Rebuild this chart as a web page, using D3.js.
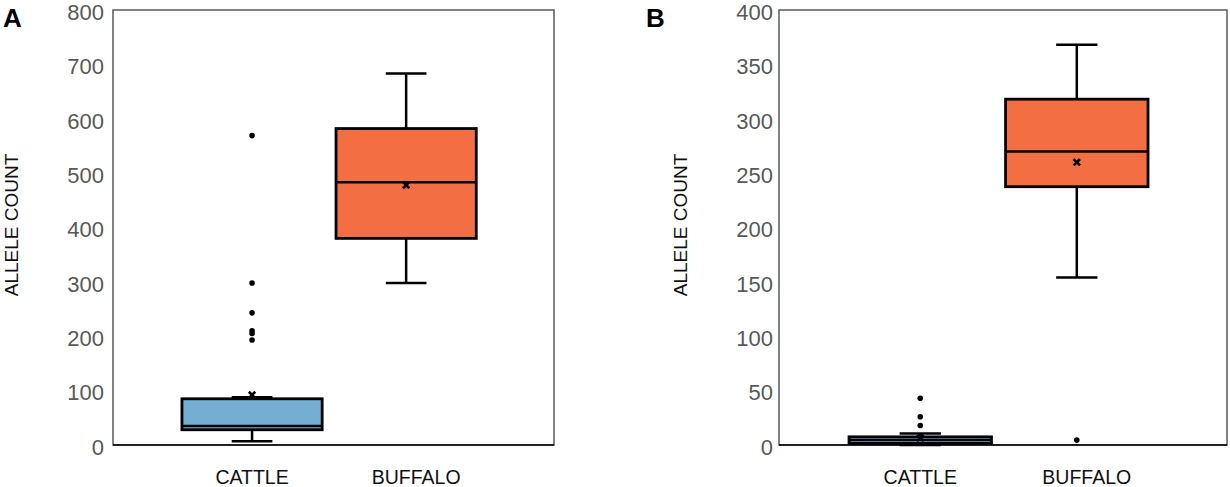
<!DOCTYPE html>
<html>
<head>
<meta charset="utf-8">
<script src="https://cdn.jsdelivr.net/npm/d3@7"></script>
<style>
  body { margin: 0; background: #fff; }
  svg { display: block; font-family: "Liberation Sans", Arial, sans-serif; }
</style>
</head>
<body>
<svg id="chart" width="1230" height="487"></svg>
<script>
// categories shared by both panels
var categories = ["CATTLE", "BUFFALO"];
var boxColors = ["#74aed3", "#f36f43"];

// panel A : allele count
var aTicks = [0, 100, 200, 300, 400, 500, 600, 700, 800];
var aMin = [7, 298];
var aQ1 = [28, 380];
var aMedian = [35, 483];
var aQ3 = [85, 582];
var aMax = [88, 683];
var aMean = [92, 478];
var aOutliers = [[193, 205, 210, 243, 298, 569], []];

// panel B : allele count
var bTicks = [0, 50, 100, 150, 200, 250, 300, 350, 400];
var bMin = [0, 154];
var bQ1 = [1.5, 237.5];
var bMedian = [4.5, 270];
var bQ3 = [7.5, 318];
var bMax = [10.5, 368];
var bMean = [6.5, 260];
var bOutliers = [[18, 26, 43], [4.5]];

var svg = d3.select("#chart");
var plotTop = 10, plotBottom = 445;

function drawPanel(opt) {
  var g = svg.append("g");

  var y = d3.scaleLinear()
    .domain([0, opt.ticks[opt.ticks.length - 1]])
    .range([plotBottom, plotTop]);

  var x = d3.scaleBand()
    .domain(categories)
    .range([opt.left, opt.right])
    .paddingInner(0.09)
    .paddingOuter(0.476)
    .align(0.47);

  var bw = x.bandwidth();
  var capW = bw * 0.29;

  // frame
  g.append("rect")
    .attr("x", opt.left)
    .attr("y", plotTop)
    .attr("width", opt.right - opt.left)
    .attr("height", plotBottom - plotTop)
    .attr("fill", "none")
    .attr("stroke", "#5a5a5a")
    .attr("stroke-width", 1.5);

  // y axis
  var yAxis = g.append("g")
    .attr("transform", "translate(" + (opt.left - opt.tickGap) + ",0)")
    .call(d3.axisLeft(y).tickValues(opt.ticks).tickSize(0).tickPadding(0));
  yAxis.select(".domain").remove();
  yAxis.selectAll("text")
    .attr("dy", "0.42em")
    .attr("fill", "#595959")
    .style("font-size", "22px")
    .style("font-family", "'Liberation Sans', Arial, sans-serif");

  // y label
  g.append("text")
    .attr("transform", "translate(" + opt.labelX + "," + 225 + ") rotate(-90)")
    .attr("text-anchor", "middle")
    .attr("dominant-baseline", "central")
    .style("font-size", "19px")
    .attr("fill", "#111")
    .text("ALLELE COUNT");

  // category labels
  g.selectAll(".cat")
    .data(categories)
    .enter()
    .append("text")
    .attr("class", "cat")
    .attr("x", function(d, i) { return x(d) + bw / 2 + (i === 1 ? 10 : 0); })
    .attr("y", 484)
    .attr("text-anchor", "middle")
    .style("font-size", "19.5px")
    .attr("fill", "#111")
    .text(function(d) { return d; });

  var box = g.selectAll(".box")
    .data(categories)
    .enter()
    .append("g")
    .attr("class", "box")
    .attr("transform", function(d) { return "translate(" + (x(d) + bw / 2) + ",0)"; });

  // whiskers
  box.append("line")
    .attr("x1", 0).attr("x2", 0)
    .attr("y1", function(d, i) { return y(opt.max[i]); })
    .attr("y2", function(d, i) { return y(opt.q3[i]); })
    .attr("stroke", "#000").attr("stroke-width", 2.5);
  box.append("line")
    .attr("x1", 0).attr("x2", 0)
    .attr("y1", function(d, i) { return y(opt.q1[i]); })
    .attr("y2", function(d, i) { return y(opt.min[i]); })
    .attr("stroke", "#000").attr("stroke-width", 2.5);
  box.append("line")
    .attr("x1", -capW / 2).attr("x2", capW / 2)
    .attr("y1", function(d, i) { return y(opt.max[i]); })
    .attr("y2", function(d, i) { return y(opt.max[i]); })
    .attr("stroke", "#000").attr("stroke-width", 2.5);
  box.append("line")
    .attr("x1", -capW / 2).attr("x2", capW / 2)
    .attr("y1", function(d, i) { return y(opt.min[i]); })
    .attr("y2", function(d, i) { return y(opt.min[i]); })
    .attr("stroke", "#000").attr("stroke-width", 2.5);

  // boxes
  box.append("rect")
    .attr("x", -bw / 2)
    .attr("width", bw)
    .attr("y", function(d, i) { return y(opt.q3[i]); })
    .attr("height", function(d, i) { return y(opt.q1[i]) - y(opt.q3[i]); })
    .attr("fill", function(d, i) { return boxColors[i]; })
    .attr("stroke", "#000")
    .attr("stroke-width", 2.8);

  // median
  box.append("line")
    .attr("x1", -bw / 2).attr("x2", bw / 2)
    .attr("y1", function(d, i) { return y(opt.median[i]); })
    .attr("y2", function(d, i) { return y(opt.median[i]); })
    .attr("stroke", "#000").attr("stroke-width", 2.5);

  // mean marker
  var m = 3.2;
  box.append("path")
    .attr("d", function(d, i) {
      var cy = y(opt.mean[i]);
      return "M" + (-m) + "," + (cy - m) + "L" + m + "," + (cy + m) +
             "M" + m + "," + (cy - m) + "L" + (-m) + "," + (cy + m);
    })
    .attr("stroke", "#000").attr("stroke-width", 2.6);

  // outliers
  box.each(function(d, i) {
    d3.select(this).selectAll("circle")
      .data(opt.outliers[i])
      .enter()
      .append("circle")
      .attr("cx", 0)
      .attr("cy", function(v) { return y(v); })
      .attr("r", 2.8)
      .attr("fill", "#000");
  });

  // bottom axis line
  g.append("line")
    .attr("x1", opt.left).attr("x2", opt.right)
    .attr("y1", plotBottom).attr("y2", plotBottom)
    .attr("stroke", "#000").attr("stroke-width", 1.5);

  // panel letter
  g.append("text")
    .attr("x", opt.letterX)
    .attr("y", 27)
    .style("font-size", "26px")
    .style("font-weight", "bold")
    .attr("fill", "#000")
    .text(opt.letter);
}

drawPanel({
  letter: "A", letterX: 3, labelX: 11, left: 113, right: 554, tickGap: 9,
  ticks: aTicks, min: aMin, q1: aQ1, median: aMedian, q3: aQ3, max: aMax,
  mean: aMean, outliers: aOutliers
});

drawPanel({
  letter: "B", letterX: 646, labelX: 680, left: 779, right: 1227, tickGap: 6,
  ticks: bTicks, min: bMin, q1: bQ1, median: bMedian, q3: bQ3, max: bMax,
  mean: bMean, outliers: bOutliers
});
</script>
</body>
</html>
